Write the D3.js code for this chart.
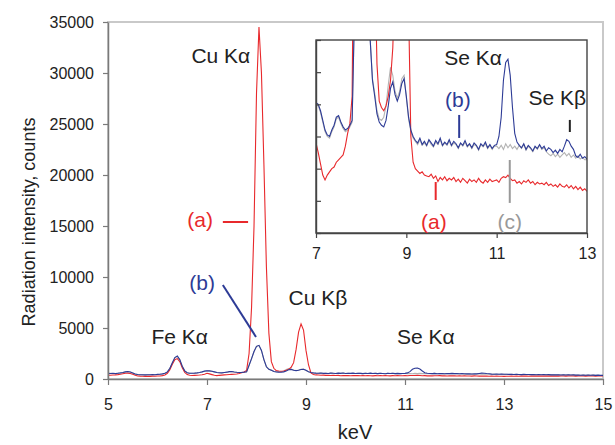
<!DOCTYPE html>
<html>
<head>
<meta charset="utf-8">
<script src="https://cdnjs.cloudflare.com/ajax/libs/d3/7.8.5/d3.min.js"></script>
<style>
body { margin: 0; background: #fff; }
text { font-family: "Liberation Sans", Arial, sans-serif; }
</style>
</head>
<body>
<div id="chart"></div>
<script>
// energy grid of the spectra: 5.00 .. 15.00 keV, one value every 0.05 keV
var keVStart = 5, keVStep = 0.05;

// (a) red spectrum, counts
var seriesA = [
    380, 370, 390, 400, 430, 470, 520, 560, 580, 540, 460, 360, 300, 280, 270, 260, 270, 260, 280, 270,
    290, 300, 330, 400, 560, 900, 1450, 1900, 2000, 1700, 1100, 650, 430, 360, 350, 360, 370, 390, 420, 470,
    560, 500, 430, 360, 330, 360, 380, 400, 410, 440, 455, 470, 485, 540, 620, 680, 850, 2500, 7000, 15000,
    28000, 34500, 30000, 21000, 11000, 4500, 1700, 1050, 820, 780, 760, 790, 850, 950, 1150, 1600, 2900, 4600, 5400, 4800,
    2800, 1400, 600, 440, 400, 385, 370, 380, 360, 355, 350, 365, 340, 355, 320, 345, 330, 350, 325, 340,
    330, 345, 320, 335, 315, 340, 325, 310, 335, 320, 330, 315, 340, 320, 310, 330, 315, 335, 320, 325,
    330, 315, 340, 350, 345, 360, 340, 325, 330, 310, 320, 305, 325, 315, 330, 310, 320, 300, 315, 305,
    310, 300, 315, 295, 305, 290, 300, 285, 305, 290, 285, 300, 280, 295, 275, 290, 270, 285, 265, 275,
    260, 275, 265, 280, 270, 285, 275, 290, 280, 285, 275, 290, 280, 295, 285, 290, 280, 295, 285, 290,
    285, 295, 280, 300, 290, 285, 300, 290, 295, 285, 300, 290, 295, 285, 300, 290, 295, 285, 300, 290,
    295
];

// (b) blue spectrum, counts
var seriesB = [
    550, 540, 560, 530, 570, 600, 640, 700, 730, 690, 590, 490, 440, 420, 410, 400, 420, 410, 430, 420,
    450, 470, 500, 560, 700, 1050, 1600, 2100, 2250, 1900, 1250, 800, 620, 560, 570, 580, 600, 640, 700, 770,
    810, 800, 760, 700, 640, 610, 600, 640, 670, 720, 730, 690, 660, 640, 650, 670, 700, 1350, 2000, 2700,
    3200, 3300, 2800, 1900, 1200, 950, 850, 740, 690, 670, 660, 700, 790, 900, 940, 860, 820, 860, 930, 960,
    850, 720, 640, 600, 575, 560, 590, 550, 570, 545, 580, 560, 540, 575, 555, 590, 545, 565, 550, 580,
    545, 570, 555, 530, 560, 545, 575, 540, 555, 530, 560, 545, 520, 555, 540, 565, 530, 550, 525, 545,
    550, 600, 720, 950, 1060, 1080, 980, 780, 620, 565, 545, 530, 555, 520, 545, 530, 510, 540, 525, 550,
    525, 540, 510, 530, 520, 500, 515, 495, 520, 505, 540, 580, 570, 540, 520, 480, 470, 490, 465, 475,
    460, 470, 450, 465, 440, 455, 445, 430, 450, 435, 445, 425, 440, 420, 435, 415, 430, 410, 425, 405,
    420, 400, 415, 395, 410, 390, 405, 385, 400, 380, 395, 375, 390, 370, 385, 365, 380, 360, 375, 355,
    360
];

// (c) gray spectrum, counts
var seriesC = [
    540, 550, 545, 540, 560, 590, 630, 690, 720, 680, 580, 480, 430, 415, 405, 395, 415, 405, 425, 415,
    445, 465, 495, 550, 690, 1040, 1580, 2080, 2230, 1880, 1240, 790, 610, 555, 565, 575, 595, 635, 690, 760,
    800, 790, 750, 690, 630, 600, 590, 630, 660, 710, 720, 680, 650, 630, 640, 660, 690, 1340, 1990, 2690,
    3190, 3290, 2790, 1890, 1200, 960, 870, 760, 710, 700, 720, 790, 920, 1030, 980, 880, 840, 880, 960, 980,
    840, 710, 630, 590, 570, 550, 580, 545, 560, 540, 575, 550, 535, 565, 550, 580, 540, 560, 545, 570,
    540, 560, 550, 525, 555, 540, 565, 535, 550, 525, 550, 540, 515, 550, 535, 555, 525, 545, 520, 540,
    540, 525, 545, 520, 555, 530, 550, 525, 540, 520, 545, 525, 550, 515, 540, 525, 505, 535, 520, 545,
    520, 530, 505, 490, 480, 495, 475, 490, 470, 485, 500, 480, 495, 470, 485, 465, 480, 460, 470, 455,
    455, 465, 445, 460, 435, 450, 440, 425, 445, 430, 440, 420, 435, 415, 430, 410, 425, 405, 420, 400,
    415, 395, 410, 390, 405, 385, 400, 380, 395, 375, 390, 370, 385, 365, 380, 360, 375, 355, 370, 350,
    355
];

var xTicksMain = [5, 7, 9, 11, 13, 15];
var yTicksMain = [0, 5000, 10000, 15000, 20000, 25000, 30000, 35000];
var xTicksInset = [7, 9, 11, 13];
var yTicksInset = [0, 200, 400, 600, 800, 1000, 1200];

var colA = "#e8292c", colB = "#2d3b96", colC = "#b3b3b3";
var labelSize = 21;

function toPoints(arr) {
    return arr.map(function (v, i) { return { x: +(keVStart + i * keVStep).toFixed(2), y: v }; });
}
var ptsA = toPoints(seriesA), ptsB = toPoints(seriesB), ptsC = toPoints(seriesC);

var W = 615, H = 445;
var svg = d3.select("#chart").append("svg")
    .attr("width", W)
    .attr("height", H);

// ---------- main plot ----------
var x = d3.scaleLinear().domain([5, 15]).range([108, 603]);
var y = d3.scaleLinear().domain([0, 35000]).range([379, 22]);

svg.append("rect")                               // light frame top/right
    .attr("x", 108).attr("y", 22)
    .attr("width", 603 - 108).attr("height", 379 - 22)
    .attr("fill", "none").attr("stroke", "#c9c9c9").attr("stroke-width", 2);

var line = d3.line().x(function (d) { return x(d.x); }).y(function (d) { return y(d.y); });
svg.append("path").datum(ptsC).attr("d", line).attr("fill", "none").attr("stroke", colC).attr("stroke-width", 1.1);
svg.append("path").datum(ptsA).attr("d", line).attr("fill", "none").attr("stroke", colA).attr("stroke-width", 1.1);
svg.append("path").datum(ptsB).attr("d", line).attr("fill", "none").attr("stroke", colB).attr("stroke-width", 1.1);

var gx = svg.append("g")
    .attr("transform", "translate(0,379)")
    .call(d3.axisBottom(x).tickValues(xTicksMain).tickSize(6).tickSizeOuter(0).tickPadding(14).tickFormat(d3.format("d")));
var gy = svg.append("g")
    .attr("transform", "translate(108,0)")
    .call(d3.axisLeft(y).tickValues(yTicksMain).tickSize(5).tickSizeOuter(0).tickPadding(9).tickFormat(d3.format("d")));
[gx, gy].forEach(function (g) {
    g.selectAll("path.domain").attr("stroke", "#7a7a7a").attr("stroke-width", 1.5);
    g.selectAll("line").attr("stroke", "#7a7a7a").attr("stroke-width", 1.2);
    g.selectAll("text").attr("font-size", 16).attr("fill", "#222")
        .attr("font-family", "Liberation Sans, Arial, sans-serif");
});

svg.append("text")                               // x axis title
    .attr("x", 355).attr("y", 439)
    .attr("text-anchor", "middle").attr("font-size", 20).attr("fill", "#222")
    .text("keV");
svg.append("text")                               // y axis title
    .attr("transform", "translate(35,222) rotate(-90)")
    .attr("text-anchor", "middle").attr("font-size", 18).attr("fill", "#222")
    .text("Radiation intensity, counts");

// peak labels of the main plot, placed in data coordinates
var mainLabels = [
    { t: "Cu K\u03b1", k: 7.28, c: 30980, col: "#222" },
    { t: "(a)", k: 6.86, c: 14900, col: colA },
    { t: "(b)", k: 6.90, c: 8725, col: colB },
    { t: "Fe K\u03b1", k: 6.45, c: 3430, col: "#222" },
    { t: "Cu K\u03b2", k: 9.24, c: 7255, col: "#222" },
    { t: "Se K\u03b1", k: 11.42, c: 3430, col: "#222" }
];
svg.selectAll("text.lab").data(mainLabels).enter().append("text")
    .attr("class", "lab")
    .attr("x", function (d) { return x(d.k); })
    .attr("y", function (d) { return y(d.c); })
    .attr("text-anchor", "middle").attr("font-size", labelSize)
    .attr("fill", function (d) { return d.col; })
    .text(function (d) { return d.t; });

var mainLeaders = [
    { k1: 7.32, c1: 15390, k2: 7.83, c2: 15390, col: colA },
    { k1: 7.32, c1: 9215, k2: 7.99, c2: 4120, col: colB }
];
svg.selectAll("line.lead").data(mainLeaders).enter().append("line")
    .attr("class", "lead")
    .attr("x1", function (d) { return x(d.k1); }).attr("y1", function (d) { return y(d.c1); })
    .attr("x2", function (d) { return x(d.k2); }).attr("y2", function (d) { return y(d.c2); })
    .attr("stroke", function (d) { return d.col; }).attr("stroke-width", 2);

// ---------- inset ----------
var xi = d3.scaleLinear().domain([7, 13]).range([316, 587]);
var yi = d3.scaleLinear().domain([0, 1200]).range([233, 40]);

svg.append("rect")
    .attr("x", 316).attr("y", 40).attr("width", 587 - 316).attr("height", 233 - 40)
    .attr("fill", "#fff");
svg.append("clipPath").attr("id", "insetClip").append("rect")
    .attr("x", 316).attr("y", 40).attr("width", 587 - 316).attr("height", 233 - 40);

var lineI = d3.line().x(function (d) { return xi(d.x); }).y(function (d) { return yi(d.y); });
var gi = svg.append("g").attr("clip-path", "url(#insetClip)");
[[ptsC, colC], [ptsA, colA], [ptsB, colB]].forEach(function (s) {
    gi.append("path").datum(s[0].filter(function (d) { return d.x >= 6.9 && d.x <= 13.1; }))
        .attr("d", lineI).attr("fill", "none").attr("stroke", s[1]).attr("stroke-width", 1.1);
});

svg.append("rect")                               // inset frame
    .attr("x", 316).attr("y", 40).attr("width", 587 - 316).attr("height", 233 - 40)
    .attr("fill", "none").attr("stroke", "#444").attr("stroke-width", 1.4);

var gxi = svg.append("g")
    .attr("transform", "translate(0,233)")
    .call(d3.axisBottom(xi).tickValues(xTicksInset).tickSize(5).tickSizeOuter(0).tickPadding(10).tickFormat(d3.format("d")));
var gyi = svg.append("g")
    .attr("transform", "translate(316,0)")
    .call(d3.axisRight(yi).tickValues(yTicksInset).tickSize(5).tickSizeOuter(0).tickFormat(""));
[gxi, gyi].forEach(function (g) {
    g.selectAll("path.domain").attr("stroke", "#444").attr("stroke-width", 1.4);
    g.selectAll("line").attr("stroke", "#444").attr("stroke-width", 1.2);
    g.selectAll("text").attr("font-size", 16).attr("fill", "#222")
        .attr("font-family", "Liberation Sans, Arial, sans-serif");
});

var insetLabels = [
    { t: "Se K\u03b1", k: 10.48, c: 1045, col: "#222" },
    { t: "Se K\u03b2", k: 12.34, c: 796, col: "#222" },
    { t: "(b)", k: 10.14, c: 783, col: colB },
    { t: "(a)", k: 9.61, c: 25, col: colA },
    { t: "(c)", k: 11.29, c: 25, col: "#999" }
];
svg.selectAll("text.ilab").data(insetLabels).enter().append("text")
    .attr("class", "ilab")
    .attr("x", function (d) { return xi(d.k); })
    .attr("y", function (d) { return yi(d.c); })
    .attr("text-anchor", "middle").attr("font-size", labelSize)
    .attr("fill", function (d) { return d.col; })
    .text(function (d) { return d.t; });

var insetMarks = [
    { k: 12.62, c1: 703, c2: 628, col: "#222" },
    { k: 10.17, c1: 734, c2: 591, col: colB },
    { k: 9.65, c1: 317, c2: 205, col: colA },
    { k: 11.29, c1: 454, c2: 187, col: "#999" }
];
svg.selectAll("line.imark").data(insetMarks).enter().append("line")
    .attr("class", "imark")
    .attr("x1", function (d) { return xi(d.k); }).attr("y1", function (d) { return yi(d.c1); })
    .attr("x2", function (d) { return xi(d.k); }).attr("y2", function (d) { return yi(d.c2); })
    .attr("stroke", function (d) { return d.col; }).attr("stroke-width", 2);
</script>
</body>
</html>
